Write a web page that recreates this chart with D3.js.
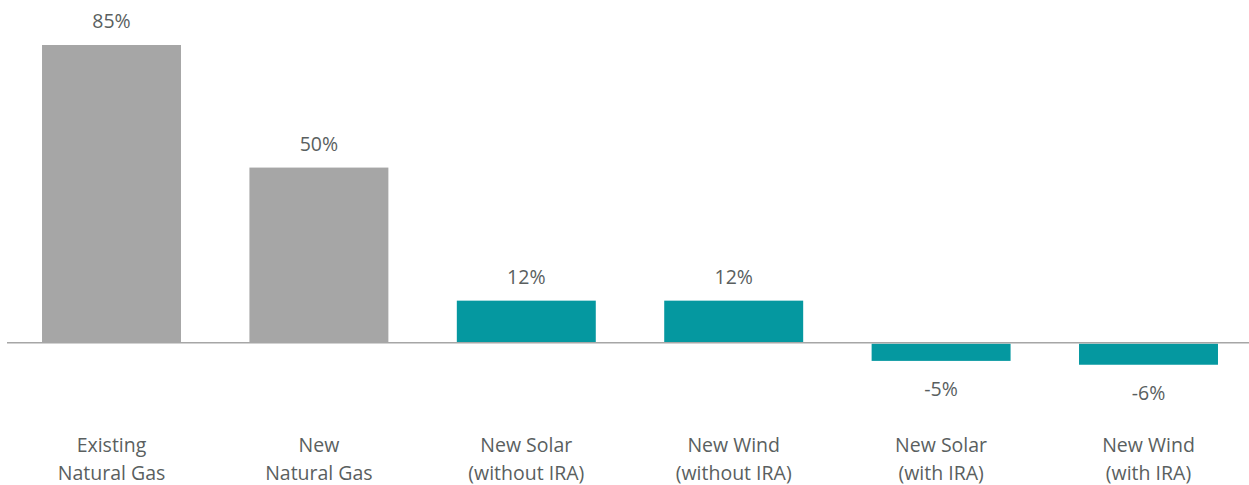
<!DOCTYPE html>
<html><head><meta charset="utf-8">
<script src="https://cdn.jsdelivr.net/npm/d3@7"></script>
<style>body{margin:0;background:#fff}svg{display:block}</style>
</head><body>
<svg id="c" width="1249" height="485"></svg>
<script>
const categories = ["Existing\nNatural Gas","New\nNatural Gas","New Solar\n(without IRA)","New Wind\n(without IRA)","New Solar\n(with IRA)","New Wind\n(with IRA)"];
const values = [85, 50, 12, 12, -5.2, -6.3];
const kinds = ["gas","gas","renew","renew","renew","renew"];
const colors = {gas:"#a6a6a6", renew:"#0598a0"};

const W = 1249, H = 485;
const svg = d3.select("#c");
const x = d3.scaleBand().domain(categories).range([7.8, 1252.2]).paddingInner(0.33).paddingOuter(0.165);
const y = d3.scaleLinear().domain([-10, 85]).range([342.7 + 35, 45]);
const font = "'Open Sans', 'Segoe UI', sans-serif";
const txt = "#5a5f5f";

svg.selectAll("rect.bar").data(values).join("rect")
  .attr("x", (d,i)=>x(categories[i]))
  .attr("width", x.bandwidth())
  .attr("y", d=> d>=0 ? y(d) : y(0)+1)
  .attr("height", d=> Math.abs(y(d)-y(0)) - (d>=0?0:1))
  .attr("fill", (d,i)=>colors[kinds[i]]);

svg.append("line").attr("x1",7).attr("x2",1249).attr("y1",y(0)).attr("y2",y(0))
  .attr("stroke","#a6a6a6").attr("stroke-width",1.5);

const fmt = d=> String(Math.round(d)) + "%";
svg.selectAll("text.val").data(values).join("text")
  .attr("x",(d,i)=>x(categories[i])+x.bandwidth()/2)
  .attr("y", d=> d>=0 ? y(d)-17 : y(d)+35)
  .attr("text-anchor","middle").attr("font-family",font).attr("font-size",19.5)
  .attr("fill",txt).text(fmt);

const g = svg.selectAll("text.cat").data(categories).join("text")
  .attr("text-anchor","middle").attr("font-family",font).attr("font-size",19.5).attr("fill",txt);
g.each(function(d){
  const t = d3.select(this);
  d.split("\n").forEach((ln,k)=>{
    t.append("tspan").attr("x", x(d)+x.bandwidth()/2).attr("y", 452 + k*28).text(ln);
  });
});
</script>
</body></html>
